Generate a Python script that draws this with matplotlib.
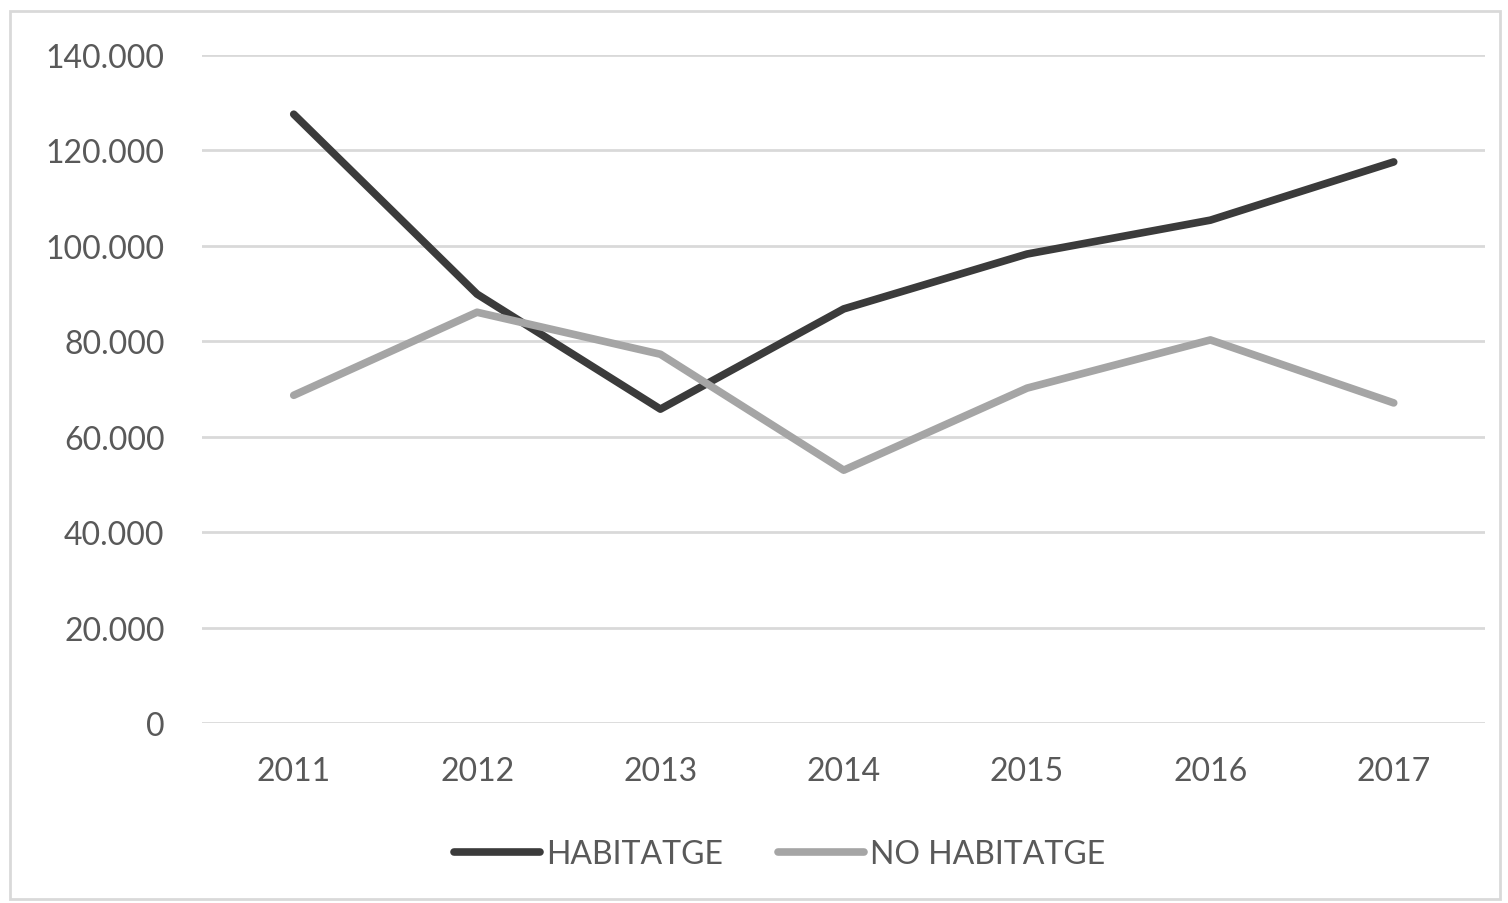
import matplotlib.pyplot as plt
from matplotlib.patches import Rectangle
from matplotlib.ticker import FuncFormatter

years = ['2011', '2012', '2013', '2014', '2015', '2016', '2017']
habitatge = [127600, 89900, 65800, 86800, 98300, 105400, 117600]
no_habitatge = [68700, 86100, 77300, 53000, 70200, 80300, 67100]

plt.rcParams['font.family'] = ['Lato', 'DejaVu Sans']
text_color = '#595959'

fig = plt.figure(figsize=(15.08, 9.04), dpi=100)
ax = fig.add_axes([0.134, 0.199, 0.851, 0.739])

x = range(len(years))
ax.plot(x, habitatge, color='#3b3b3b', lw=5.5, solid_capstyle='round',
        solid_joinstyle='round', label='HABITATGE')
ax.plot(x, no_habitatge, color='#a5a5a5', lw=5.5, solid_capstyle='round',
        solid_joinstyle='round', label='NO HABITATGE')

ax.set_xlim(-0.5, 6.5)
ax.set_ylim(0, 140000)
ax.set_yticks(range(0, 140001, 20000))
ax.yaxis.set_major_formatter(FuncFormatter(lambda v, p: f'{int(v):,}'.replace(',', '.')))
ax.set_xticks(list(x))
ax.set_xticklabels(years)
ax.grid(axis='y', color='#d9d9d9', lw=2)
ax.set_axisbelow(True)
for s in ax.spines.values():
    s.set_visible(False)
ax.tick_params(axis='both', length=0, labelsize=23, labelcolor=text_color)
ax.tick_params(axis='y', pad=27)
ax.tick_params(axis='x', pad=24)

leg = fig.legend(loc='center', bbox_to_anchor=(0.517, 0.054), ncol=2, frameon=False,
                 fontsize=23, handlelength=2.7, handletextpad=0.2, columnspacing=1.7,
                 labelcolor=text_color)

fig.patches.append(Rectangle((10 / 1508, 4 / 904), 1490 / 1508, 888 / 904,
                             transform=fig.transFigure, fill=False,
                             edgecolor='#d9d9d9', lw=2))

fig.savefig('out.png', dpi=100)
